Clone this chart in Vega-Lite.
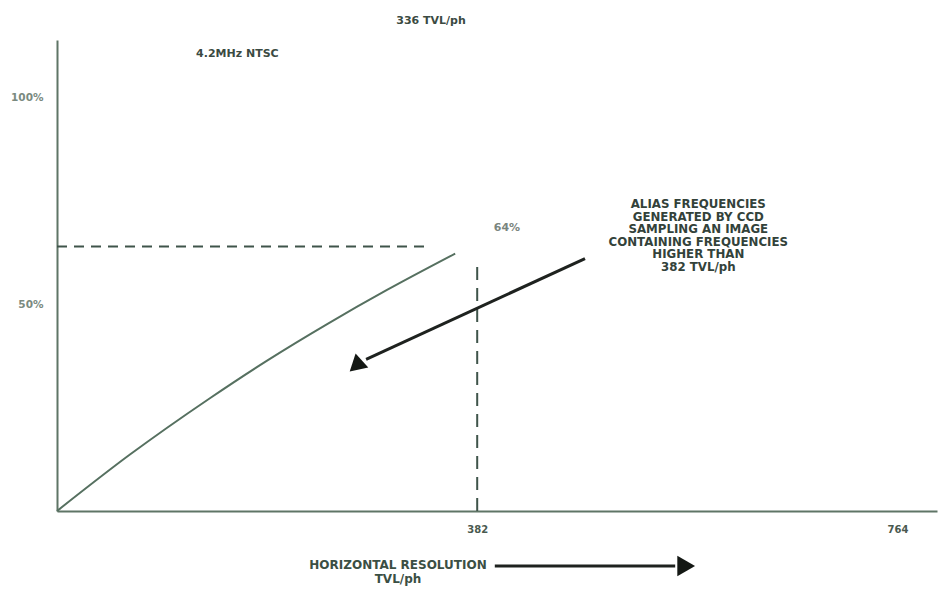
{
  "$schema": "https://vega.github.io/schema/vega-lite/v6.json",
  "width": 880,
  "height": 471,
  "autosize": "none",
  "padding": {"left": 57, "top": 40, "right": 1, "bottom": 103},
  "background": "white",
  "config": {"view": {"stroke": null}, "font": "DejaVu Sans"},
  "encoding": {
    "x": {"field": "x", "type": "quantitative", "title": null,
      "scale": {"domain": [0, 800], "nice": false, "zero": false},
      "axis": {"values": [382, 764], "ticks": false, "grid": false, "domainColor": "#5f7566", "domainWidth": 2,
        "labelColor": "#4a5a50", "labelFont": "DejaVu Sans", "labelFontWeight": "bold", "labelFontSize": 10, "labelPadding": 13}},
    "y": {"field": "y", "type": "quantitative", "title": null,
      "scale": {"domain": [0, 114], "nice": false, "zero": false},
      "axis": {"values": [50, 100], "ticks": false, "grid": false, "domainColor": "#5f7566", "domainWidth": 2,
        "labelColor": "#7a8a80", "labelFont": "DejaVu Sans", "labelFontWeight": "bold", "labelFontSize": 10.5, "labelPadding": 14,
        "labelExpr": "datum.value + '%'"}}
  },
  "layer": [
    {
      "data": {"values": [
        {"x": 0, "y": 0}, {"x": 66, "y": 13.6}, {"x": 139, "y": 27.3}, {"x": 191, "y": 36.4},
        {"x": 246, "y": 45.3}, {"x": 300, "y": 53.5}, {"x": 362, "y": 62.3}
      ]},
      "mark": {"type": "line", "color": "#567060", "strokeWidth": 2, "interpolate": "monotone"}
    },
    {
      "data": {"values": [{"x": 0, "x2": 340, "y": 64}]},
      "mark": {"type": "rule", "color": "#3f544a", "strokeWidth": 2, "strokeDash": [10, 7]},
      "encoding": {"x2": {"field": "x2"}}
    },
    {
      "data": {"values": [{"x": 382, "y": 0, "y2": 60}]},
      "mark": {"type": "rule", "color": "#3f544a", "strokeWidth": 2, "strokeDash": [13, 8]},
      "encoding": {"y2": {"field": "y2"}}
    },
    {
      "data": {"values": [{"x": 480, "y": 61.1, "x2": 281, "y2": 36.7}]},
      "mark": {"type": "rule", "color": "#1e221f", "strokeWidth": 3},
      "encoding": {"x2": {"field": "x2"}, "y2": {"field": "y2"}}
    },
    {
      "data": {"values": [{"x": 273, "y": 36.2}]},
      "mark": {"type": "point", "shape": "triangle-up", "filled": true, "color": "#141814", "opacity": 1, "size": 360, "angle": -12}
    },
    {
      "data": {"values": [{"x": 398, "x2": 562, "y": -13.3}]},
      "mark": {"type": "rule", "color": "#1e221f", "strokeWidth": 3},
      "encoding": {"x2": {"field": "x2"}}
    },
    {
      "data": {"values": [{"x": 572, "y": -13.3}]},
      "mark": {"type": "point", "shape": "triangle-right", "filled": true, "color": "#141814", "opacity": 1, "size": 420}
    },
    {
      "data": {"values": [
        {"x": 340, "y": 118.5, "t": "336 TVL/ph"},
        {"x": 164, "y": 110.6, "t": "4.2MHz NTSC"}
      ]},
      "mark": {"type": "text", "font": "DejaVu Sans", "fontWeight": "bold", "fontSize": 11, "color": "#3b4a42", "align": "center", "baseline": "middle"},
      "encoding": {"text": {"field": "t"}}
    },
    {
      "data": {"values": [{"x": 409, "y": 68.6, "t": "64%"}]},
      "mark": {"type": "text", "font": "DejaVu Sans", "fontWeight": "bold", "fontSize": 11, "color": "#7a857e", "align": "center", "baseline": "middle"},
      "encoding": {"text": {"field": "t"}}
    },
    {
      "data": {"values": [{"x": 583, "y": 74.3, "t": "ALIAS FREQUENCIES\nGENERATED BY CCD\nSAMPLING AN IMAGE\nCONTAINING FREQUENCIES\nHIGHER THAN\n382 TVL/ph"}]},
      "mark": {"type": "text", "font": "DejaVu Sans", "fontWeight": "bold", "fontSize": 11.8, "lineHeight": 12.5, "lineBreak": "\n", "color": "#33423a", "align": "center", "baseline": "middle"},
      "encoding": {"text": {"field": "t"}}
    },
    {
      "data": {"values": [
        {"x": 310, "y": -13.1, "t": "HORIZONTAL RESOLUTION"},
        {"x": 310, "y": -16.4, "t": "TVL/ph"}
      ]},
      "mark": {"type": "text", "font": "DejaVu Sans", "fontWeight": "bold", "fontSize": 12, "color": "#3b4f44", "align": "center", "baseline": "middle"},
      "encoding": {"text": {"field": "t"}}
    }
  ]
}
